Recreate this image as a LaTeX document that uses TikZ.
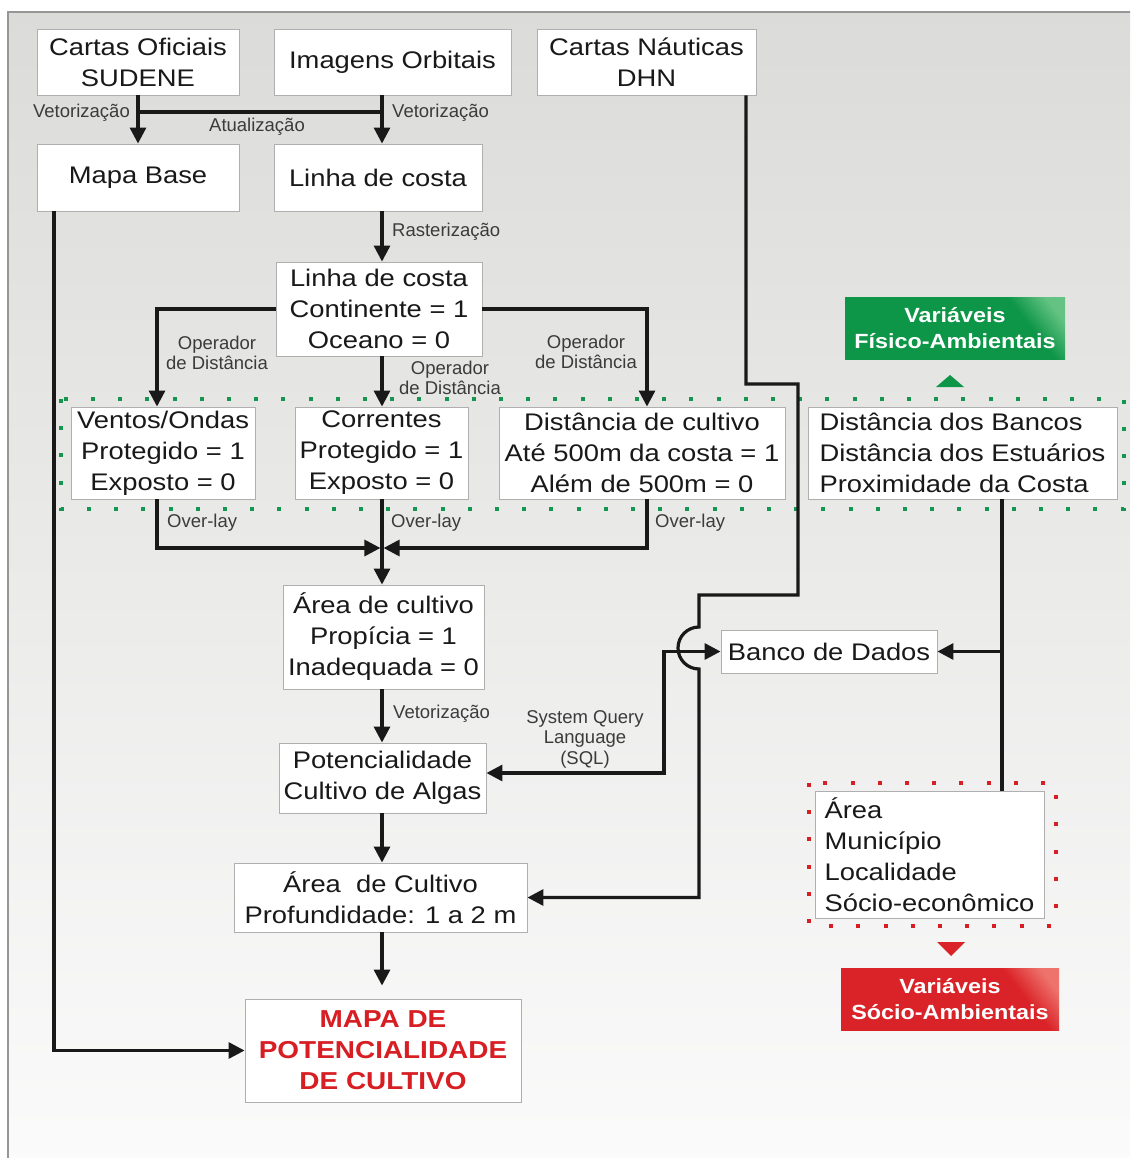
\documentclass[tikz,border=0pt]{standalone}
\usepackage{fontspec}
\setmainfont{Liberation Sans}
\newfontfamily\mainf[FakeStretch=1.14]{Liberation Sans}
\usetikzlibrary{arrows.meta}
\definecolor{bgtop}{RGB}{219,219,217}
\definecolor{bgbot}{RGB}{251,251,251}
\definecolor{framec}{RGB}{150,150,150}
\definecolor{boxline}{RGB}{175,175,175}
\definecolor{ink}{RGB}{25,25,25}
\definecolor{vgreen}{RGB}{14,150,72}
\definecolor{vgreenL}{RGB}{100,195,130}
\definecolor{vred}{RGB}{218,35,40}
\definecolor{vredL}{RGB}{238,115,108}
\definecolor{dotgreen}{RGB}{20,150,80}
\definecolor{dotred}{RGB}{215,30,35}
\pgfdeclarehorizontalshading{glossg}{100bp}{color(0bp)=(vgreen); color(70bp)=(vgreen); color(80bp)=(vgreenL); color(100bp)=(vgreenL)}
\pgfdeclarehorizontalshading{glossr}{100bp}{color(0bp)=(vred); color(70bp)=(vred); color(80bp)=(vredL); color(100bp)=(vredL)}
\begin{document}
\begin{tikzpicture}[x=1pt,y=-1pt,
  box/.style={draw=boxline, line width=0.9pt, fill=white, inner sep=0pt, align=center, text=ink, font=\mainf\fontsize{24}{31}\selectfont},
  lbl/.style={inner sep=0pt, align=center, text=ink!85, font=\fontsize{18.5}{20.5}\selectfont},
  con/.style={line width=3.2pt, draw=ink},
  arr/.style={con, -{Triangle[length=16pt,width=16pt]}},
  dbl/.style={con, {Triangle[length=16pt,width=16pt]}-{Triangle[length=16pt,width=16pt]}},
  tag/.style={inner sep=0pt, align=center, text=white, font=\mainf\bfseries\fontsize{20.5}{26}\selectfont},
  gdots/.style={draw=dotgreen, line width=4pt, dash pattern=on 4pt off 23.2pt},
  rdots/.style={draw=dotred, line width=4pt, dash pattern=on 4pt off 23.2pt}
]
% background
\useasboundingbox (0,0) rectangle (1130,1158);
\begin{scope}
\clip (0,0) rectangle (1130,1158);
\fill[white] (0,0) rectangle (1130,1158);
\shade[top color=bgtop, bottom color=bgbot] (8,12) rectangle (1150,1170);
\draw[framec, line width=1.2pt] (8,1170) -- (8,12) -- (1150,12);
\end{scope}

% dotted groupings
\draw[gdots] (61,399) rectangle (1124,509);
\draw[rdots] (809,783) rectangle (1056,926);

% boxes
\node[box, minimum width=202pt, minimum height=66pt] (cof) at (138,62) {Cartas Oficiais\\SUDENE};
\node[box, minimum width=237pt, minimum height=66pt] (img) at (392.5,62) {Imagens Orbitais};
\node[box, minimum width=219pt, minimum height=66pt] (cn) at (646.5,62) {Cartas Náuticas\\DHN};
\node[box, minimum width=202pt, minimum height=67pt] (mb) at (138,177.5) {Mapa Base};
\node[box, minimum width=208pt, minimum height=67pt] (lc1) at (378,177.5) {Linha de costa};
\node[box, minimum width=206pt, minimum height=94pt] (lc2) at (379,309) {Linha de costa\\Continente = 1\\Oceano = 0};
\node[box, minimum width=184pt, minimum height=92pt] (vo) at (163,453) {Ventos/Ondas\\Protegido = 1\\Exposto = 0};
\node[box, minimum width=173pt, minimum height=92pt] (cor) at (381.5,453) {Correntes\\Protegido = 1\\Exposto = 0};
\node[box, minimum width=286pt, minimum height=92pt] (dc) at (642,453) {Distância de cultivo\\Até 500m da costa = 1\\Além de 500m = 0};
\node[box, align=left, minimum width=309pt, minimum height=92pt] (db) at (962.5,453) {Distância dos Bancos\\Distância dos Estuários\\Proximidade da Costa};
\node[box, minimum width=201pt, minimum height=104pt] (ac) at (383.5,637) {Área de cultivo\\Propícia = 1\\Inadequada = 0};
\node[box, minimum width=207pt, minimum height=70pt] (pot) at (382.5,778) {Potencialidade\\Cultivo de Algas};
\node[box, minimum width=293pt, minimum height=69pt] (ac2) at (380.5,897.5) {Área~ de Cultivo\\Profundidade: 1 a 2 m};
\node[box, text={rgb,255:red,215;green,30;blue,35}, font=\mainf\bfseries\fontsize{24.5}{31}\selectfont, minimum width=276pt, minimum height=103pt] (mapa) at (383,1050.5) {MAPA DE\\POTENCIALIDADE\\DE CULTIVO};
\node[box, minimum width=216pt, minimum height=43pt] (bd) at (829,651.5) {Banco de Dados};
\node[box, align=left, minimum width=229pt, minimum height=127pt] (area) at (929.5,854.5) {Área\\Município\\Localidade\\Sócio-econômico};

% coloured tags
\node[tag, fill=vgreen, minimum width=220pt, minimum height=62pt,
  path picture={\shade[shading=glossg, shading angle=38] (path picture bounding box.south west) rectangle (path picture bounding box.north east);}] (vfa) at (955,328) {Variáveis\\Físico-Ambientais};
\node[tag, fill=vred, minimum width=218pt, minimum height=62pt,
  path picture={\shade[shading=glossr, shading angle=38] (path picture bounding box.south west) rectangle (path picture bounding box.north east);}] (vsa) at (950,999) {Variáveis\\Sócio-Ambientais};
\fill[vgreen] (936,387) -- (964,387) -- (950,375) -- cycle;
\fill[vred] (937,942) -- (965,942) -- (951,956) -- cycle;

% connectors
\coordinate (ax) at (382,0);
\coordinate (atl) at (0,112);
\draw[arr] (cof.south) -- (mb.north);
\draw[arr] (img.south -| ax) -- (lc1.north -| ax);
\draw[con] (cof.south |- atl) -- (ax |- atl);
\draw[arr] (lc1.south -| ax) -- (lc2.north -| ax);
\draw[arr] (lc2.west) -| ([xshift=-6pt]vo.north);
\draw[arr] (lc2.south -| ax) -- (cor.north -| ax);
\draw[arr] (lc2.east) -| ([xshift=5pt]dc.north);
\coordinate (ov) at (382,548);
\draw[arr] ([xshift=-6pt]vo.south) |- ([xshift=-1.6pt]ov);
\draw[arr] ([xshift=5pt]dc.south) |- ([xshift=1.6pt]ov);
\draw[arr] (cor.south -| ax) -- (ac.north -| ax);
\draw[arr] (ac.south -| ax) -- (pot.north -| ax);
\draw[arr] (pot.south -| ax) -- (ac2.north -| ax);
\draw[arr, shorten >=13pt] (ac2.south -| ax) -- (mapa.north -| ax);
\draw[arr] ([xshift=-84pt]mb.south) |- (mapa.west);
\draw[arr] ([xshift=99.5pt]cn.south) |- (798,384) |- (699,595) -- (699,627)
  arc[start angle=90, end angle=270, radius=21pt] |- (ac2.east);
\coordinate (sq) at (664,0);
\draw[dbl] ([yshift=5pt]pot.east) -| (sq |- bd.west) -- (bd.west);
\coordinate (dbx) at ([xshift=39.5pt]db.south);
\draw[con] (dbx) -- (dbx |- area.north);
\draw[arr] (dbx |- bd.east) -- (bd.east);

% labels
\node[lbl, anchor=east] (l1) at (130,113) {Vetorização};
\node[lbl, anchor=west] (l2) at (392,113) {Vetorização};
\node[lbl] (l3) at (257,127) {Atualização};
\node[lbl, anchor=west] (l4) at (392,232) {Rasterização};
\node[lbl] (l5) at (217,353) {Operador\\de Distância};
\node[lbl] (l6) at (450,378) {Operador\\de Distância};
\node[lbl] (l7) at (586,352) {Operador\\de Distância};
\node[lbl, anchor=west] (l8) at (167,523) {Over-lay};
\node[lbl, anchor=west] (l9) at (391,523) {Over-lay};
\node[lbl, anchor=west] (l10) at (655,523) {Over-lay};
\node[lbl, anchor=west] (l11) at (393,714) {Vetorização};
\node[lbl] (l12) at (585,739) {System Query\\Language\\(SQL)};
\end{tikzpicture}
\end{document}
